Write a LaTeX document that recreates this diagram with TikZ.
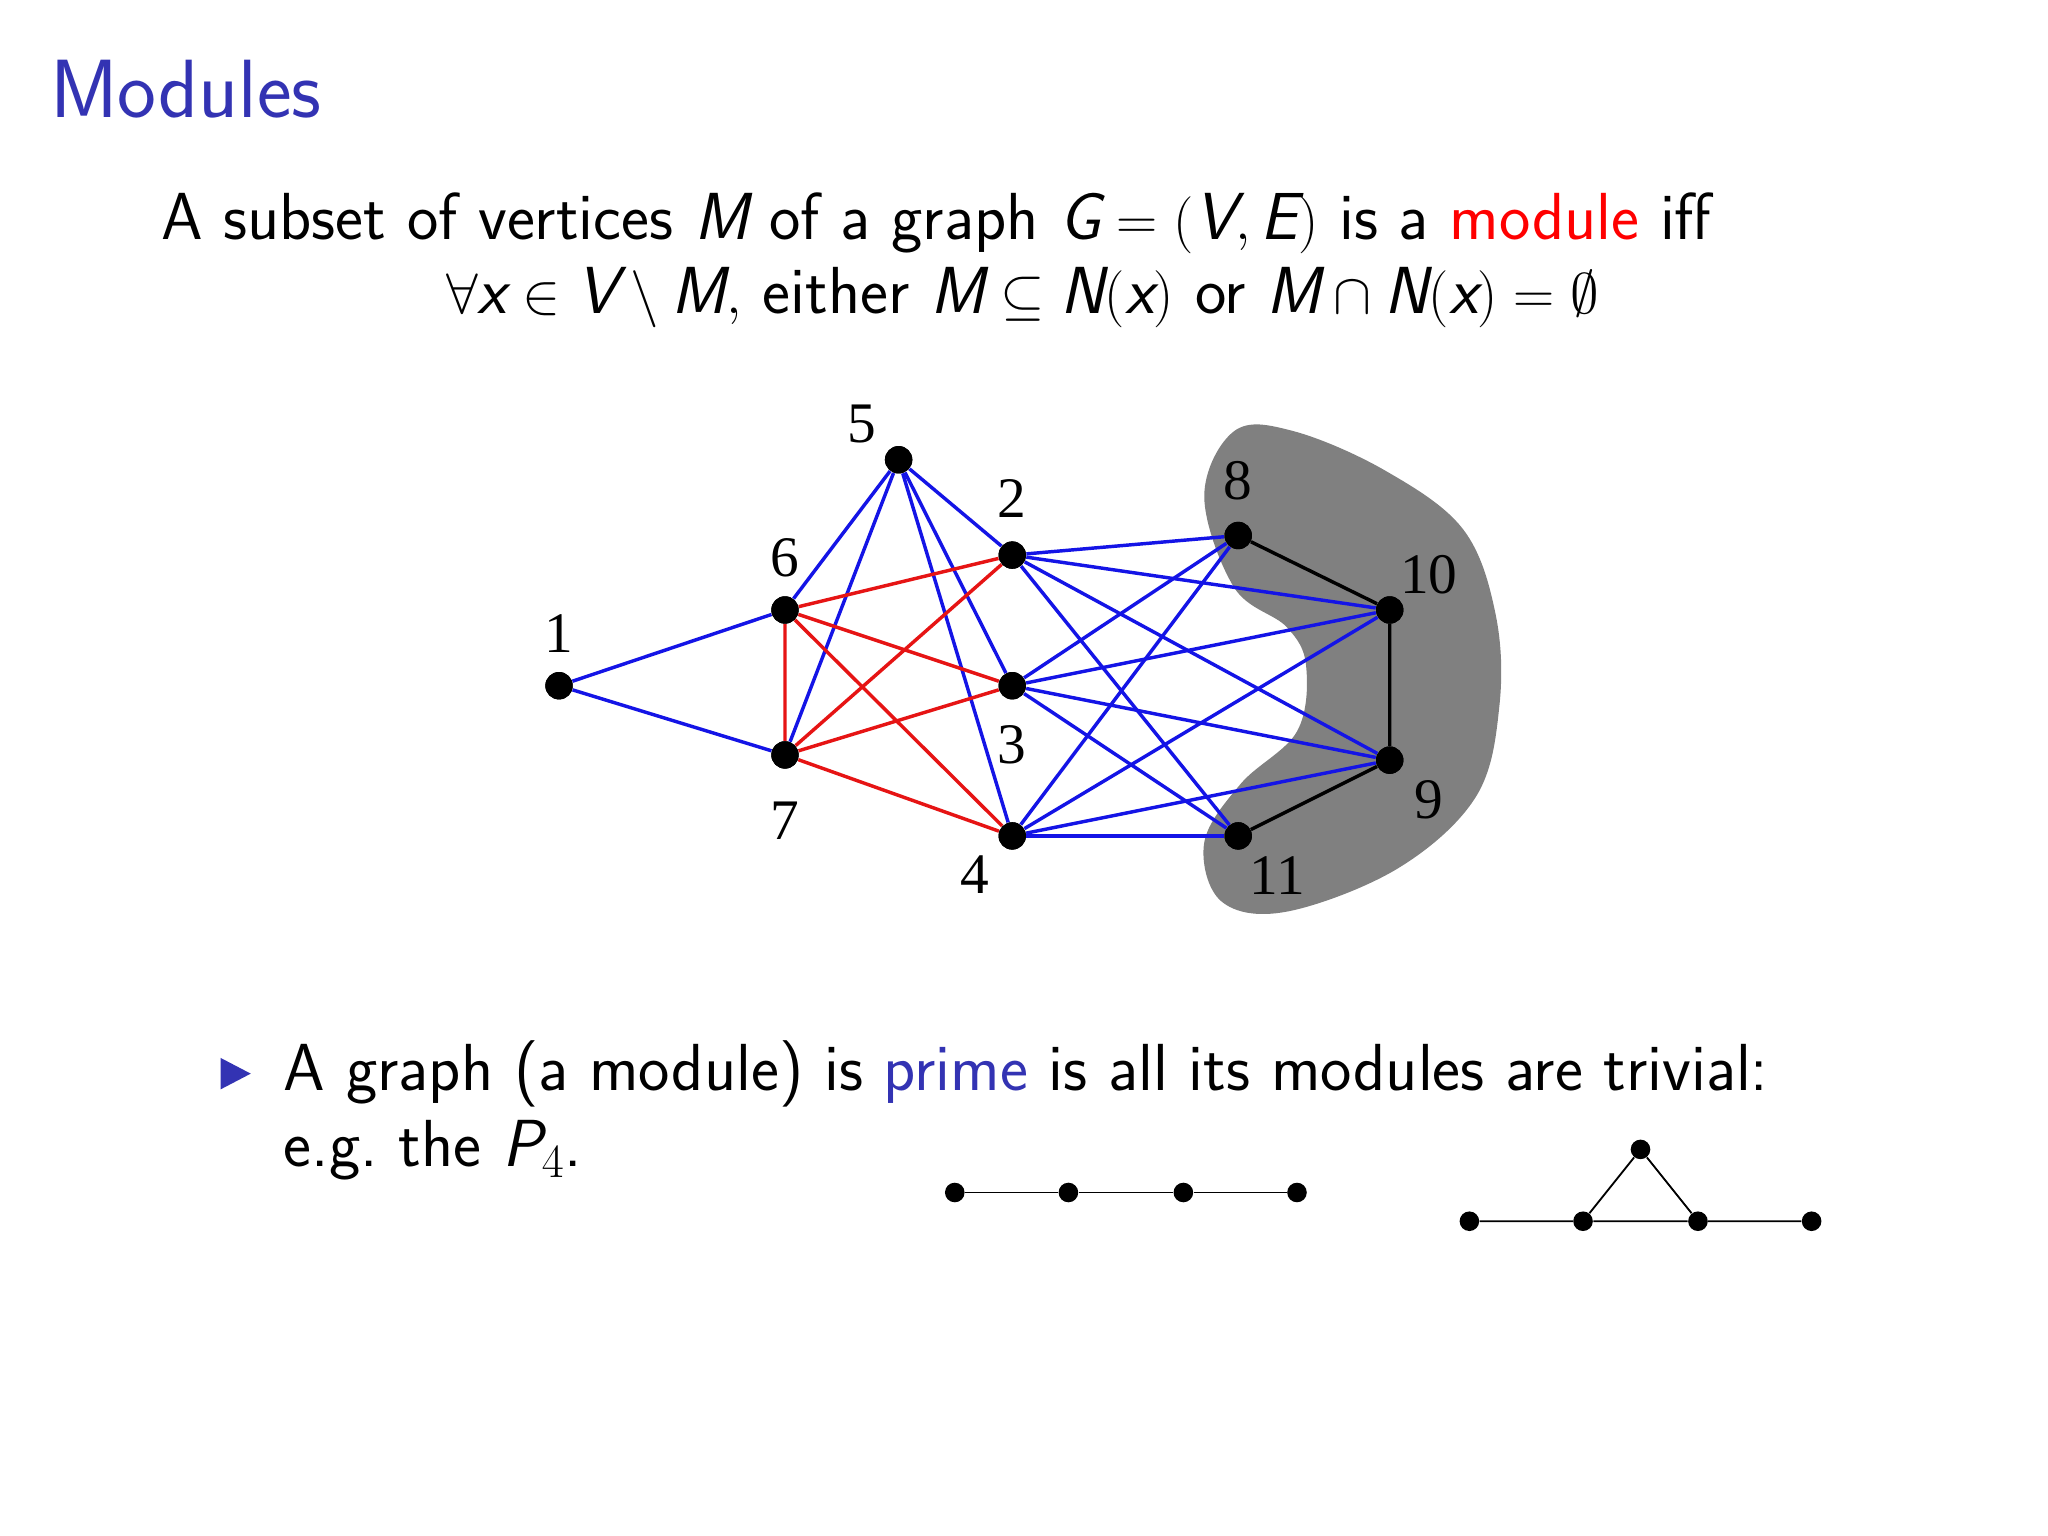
\documentclass[tikz,border=0pt]{standalone}
\usepackage{fontspec}
\newfontfamily\numfont{Liberation Serif}
\usepackage{amssymb}
\newcommand{\mv}[1]{\mathord{\textsf{\itshape #1}}}
\definecolor{bblue}{RGB}{51,51,179}
\definecolor{eblue}{RGB}{20,20,230}
\definecolor{ered}{RGB}{230,20,20}
\definecolor{blob}{RGB}{128,128,128}
\tikzset{v/.style={circle,fill=black,inner sep=0pt,minimum size=0.42cm},
 sv/.style={circle,fill=black,inner sep=0pt,minimum size=0.3cm},
 bl/.style={eblue,line width=1.5pt},
 rd/.style={ered,line width=1.5pt},
 bk/.style={black,line width=1.5pt},
 lab/.style={font=\fontsize{25}{30}\selectfont\numfont},
 txt/.style={font=\fontsize{29}{34}\selectfont\sffamily}}
\begin{document}
\begin{tikzpicture}[x=0.02cm,y=-0.02cm]
\useasboundingbox (0,0) rectangle (1568,1176);
\fill[white] (0,0) rectangle (1568,1176);
\node[anchor=base west,inner sep=0,font=\fontsize{36}{40}\selectfont\sffamily,text=bblue] (title) at (38,90) {Modules};
\node[txt,anchor=base west,inner sep=0] (l1) at (123,183) {A subset of vertices $\mv{M}$ of a graph $\mv{G}=(\mv{V},\mv{E})$ is a \textcolor{red}{module} iff};
\node[txt,anchor=base,inner sep=0] (l2) at (783,240) {$\forall \mv{x}\in \mv{V}\setminus \mv{M},$\ either $\mv{M}\subseteq \mv{N}(\mv{x})$ or $\mv{M}\cap \mv{N}(\mv{x})=\emptyset$};
\fill[blob] plot[smooth cycle,tension=0.6] coordinates {(922,380) (945,330) (990,330) (1060,360) (1120,405) (1145,470) (1148,540) (1130,610) (1070,665) (985,698) (935,690) (922,645) (950,600) (993,560) (1000,510) (985,480) (945,450)};
\node[v] (n1) at (428,525) {};
\node[v] (n5) at (688,352) {};
\node[v] (n2) at (775,425) {};
\node[v] (n6) at (601,467) {};
\node[v] (n7) at (601,578) {};
\node[v] (n3) at (775,525) {};
\node[v] (n4) at (775,640) {};
\node[v] (n8) at (948,410) {};
\node[v] (n10) at (1064,467) {};
\node[v] (n9) at (1064,582) {};
\node[v] (n11) at (948,640) {};
\draw[bl] (n1)--(n6) (n1)--(n7);
\foreach \t in {n6,n7,n2,n3,n4} \draw[bl] (n5)--(\t);
\draw[rd] (n6)--(n7) (n6)--(n2) (n6)--(n3) (n6)--(n4) (n7)--(n2) (n7)--(n3) (n7)--(n4);
\foreach \s in {n2,n3,n4}{\foreach \t in {n8,n10,n9,n11} \draw[bl] (\s)--(\t);}
\draw[bk] (n8)--(n10)--(n9)--(n11);
\foreach \n in {n1,n5,n2,n6,n7,n3,n4,n8,n10,n9,n11} \fill (\n) circle (0.21cm);
\node[lab] (t5) at (660,325) {5};
\node[lab] (t2) at (775,382) {2};
\node[lab] (t6) at (601,427) {6};
\node[lab] (t1) at (428,485) {1};
\node[lab] (t3) at (775,570) {3};
\node[lab] (t7) at (601,628) {7};
\node[lab] (t4) at (746,670) {4};
\node[lab] (t8) at (948,368) {8};
\node[lab] (t10) at (1094,440) {10};
\node[lab] (t9) at (1094,612) {9};
\node[lab] (t11) at (978,670) {11};
\fill[bblue] (169,810) -- (192,822) -- (169,834) -- cycle;
\node[txt,anchor=base west,inner sep=0] (b1) at (217,835) {A graph (a module) is \textcolor{bblue}{prime} is all its modules are trivial:};
\node[txt,anchor=base west,inner sep=0] (b2) at (217,893) {e.g.\ the $\mv{P}_4$.};
\node[sv] (p1) at (731,913) {};
\node[sv] (p2) at (818,913) {};
\node[sv] (p3) at (906,913) {};
\node[sv] (p4) at (993,913) {};
\draw[line width=0.8pt] (p1)--(p2)--(p3)--(p4);
\node[sv] (q1) at (1125,935) {};
\node[sv] (q2) at (1212,935) {};
\node[sv] (q3) at (1300,935) {};
\node[sv] (q4) at (1387,935) {};
\node[sv] (q5) at (1256,880) {};
\draw[line width=0.8pt] (q1)--(q2)--(q3)--(q4) (q2)--(q5)--(q3);
\end{tikzpicture}
\end{document}
